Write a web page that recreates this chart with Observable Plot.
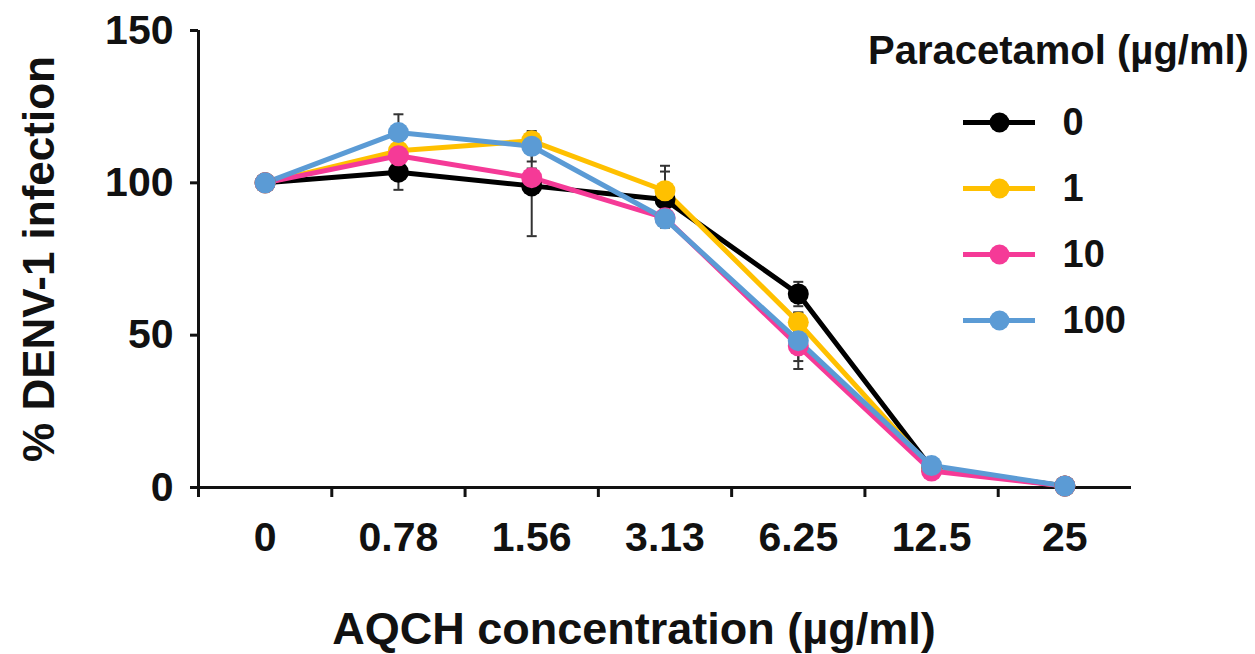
<!DOCTYPE html>
<html>
<head>
<meta charset="utf-8">
<script src="https://cdn.jsdelivr.net/npm/d3@7"></script>
<script src="https://cdn.jsdelivr.net/npm/@observablehq/plot@0.6"></script>
<style>
  body { margin: 0; background: #fff; }
  #wrap { position: relative; width: 1255px; height: 654px; font-family: "Liberation Sans", Arial, sans-serif; font-weight: bold; color: #111; }
  #legendTitle { position: absolute; left: 868px; top: 30px; font-size: 40px; line-height: 1; white-space: nowrap; }
  #legend { position: absolute; left: 860px; top: 0px; }
</style>
</head>
<body>
<div id="wrap"><div id="legendTitle"></div><div id="legend"></div></div>
<script>
// ---- data ----
const categories = ["0", "0.78", "1.56", "3.13", "6.25", "12.5", "25"];
const seriesNames = ["0", "1", "10", "100"];
const seriesColors = ["#000000", "#FFC000", "#F53A97", "#5B9BD5"];

const values0   = [100, 103.5,  99.0, 94.5, 63.5, 6.3, 0.5];
const values1   = [100, 110.5, 113.8, 97.4, 54.2, 6.0, 0.5];
const values10  = [100, 108.9, 101.7, 88.5, 46.5, 5.4, 0.5];
const values100 = [100, 116.5, 112.0, 88.2, 48.2, 7.2, 0.5];

const err0   = [0, 5.8, 16.5, 9.2, 4.0, 1.0, 0];
const err1   = [0, 2.5,  2.0, 8.2, 3.0, 1.0, 0];
const err10  = [0, 2.0,  3.0, 2.0, 5.0, 1.0, 0];
const err100 = [0, 6.0,  5.0, 2.0, 9.3, 1.5, 0];

const yTicks = [0, 50, 100, 150];
const xLabel = "AQCH concentration (\u00b5g/ml)";
const yLabel = "% DENV-1 infection";
const legendTitle = "Paracetamol (\u00b5g/ml)";

// ---- tables ----
const allValues = [values0, values1, values10, values100];
const allErr = [err0, err1, err10, err100];
const rows = [];
seriesNames.forEach((s, i) => categories.forEach((c, j) => rows.push({series: s, xi: j, cat: c, value: allValues[i][j], err: allErr[i][j]})));
const errRows = rows.filter(d => d.err > 0);
const capRows = errRows.flatMap(d => [{xi: d.xi, y: d.value - d.err}, {xi: d.xi, y: d.value + d.err}]);
const boundaries = d3.range(categories.length + 1).map(i => i - 0.5);

const font = "Liberation Sans, Arial, sans-serif";
const capSymbol = {draw(ctx, size) { const w = Math.sqrt(size / Math.PI); ctx.moveTo(-w, 0); ctx.lineTo(w, 0); }};

const chart = Plot.plot({
  width: 1255, height: 654,
  marginLeft: 198, marginRight: 124, marginTop: 30, marginBottom: 167,
  style: {fontFamily: font, fontWeight: "bold", background: "transparent", overflow: "visible"},
  x: {domain: [-0.5, categories.length - 0.5], axis: null},
  y: {domain: [yTicks[0], yTicks[yTicks.length - 1]], axis: null},
  color: {domain: seriesNames, range: seriesColors},
  marks: [
    // y axis ticks and labels
    Plot.axisY({ticks: yTicks, tickSize: 8, tickPadding: 17, fontSize: 41, strokeWidth: 3, color: "#111", label: null}),
    Plot.axisY({ticks: [], tickSize: 0, fontSize: 44, color: "#111", label: yLabel, labelAnchor: "center", labelOffset: 176, labelArrow: "none"}),
    // x axis ticks (between categories)
    Plot.axisX({ticks: boundaries.slice(0, -1), tickSize: 10, strokeWidth: 3, color: "#111", tickFormat: () => "", label: null}),
    Plot.axisX({ticks: d3.range(categories.length), tickSize: 0, tickPadding: 34, fontSize: 41, color: "#111", tickFormat: i => categories[i], label: null}),
    // x axis title
    Plot.text([xLabel], {frameAnchor: "bottom", text: d => d, fontSize: 45, fill: "#111", dx: -31, dy: 142, lineAnchor: "middle"}),
    // axis lines
    Plot.ruleY([yTicks[0]], {stroke: "#111", strokeWidth: 3}),
    Plot.ruleX([boundaries[0]], {y1: yTicks[0], y2: yTicks[yTicks.length - 1], stroke: "#111", strokeWidth: 3}),
    // error bars
    Plot.ruleX(errRows, {x: "xi", y1: d => d.value - d.err, y2: d => d.value + d.err, stroke: "#333", strokeWidth: 2}),
    Plot.dot(capRows, {x: "xi", y: "y", symbol: capSymbol, r: 5, stroke: "#333", strokeWidth: 2, fill: "none"}),
    // series
    Plot.line(rows, {x: "xi", y: "value", z: "series", stroke: "series", strokeWidth: 5}),
    Plot.dot(rows, {x: "xi", y: "value", fill: "series", r: 10.5})
  ]
});
document.getElementById("wrap").prepend(chart);

// ---- legend ----
document.getElementById("legendTitle").textContent = legendTitle;
const legend = Plot.plot({
  width: 395, height: 360, margin: 0,
  style: {fontFamily: font, fontWeight: "bold", background: "transparent"},
  x: {domain: [0, 1], range: [103, 175], axis: null},
  y: {type: "point", domain: seriesNames, range: [121, 321], padding: 0, axis: null},
  color: {domain: seriesNames, range: seriesColors},
  marks: [
    Plot.ruleY(seriesNames, {y: d => d, x1: 0, x2: 1, stroke: d => d, strokeWidth: 5}),
    Plot.dot(seriesNames, {x: 0.5, y: d => d, fill: d => d, r: 10}),
    Plot.text(seriesNames, {x: 1, y: d => d, text: d => d, dx: 27, textAnchor: "start", fontSize: 38, fill: "#111"})
  ]
});
document.getElementById("legend").appendChild(legend);
</script>
</body>
</html>
